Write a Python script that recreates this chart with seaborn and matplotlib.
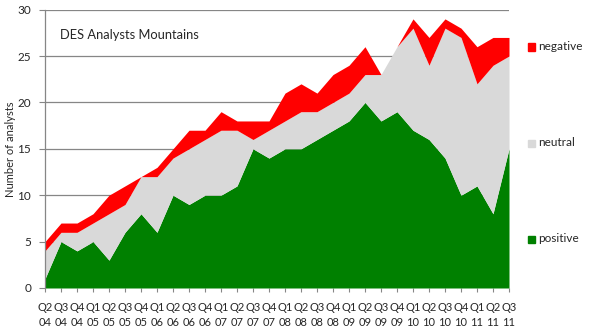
import matplotlib
matplotlib.use("Agg")
import matplotlib.pyplot as plt
import seaborn as sns

quarters = ["Q2\n04", "Q3\n04", "Q4\n04", "Q1\n05", "Q2\n05", "Q3\n05", "Q4\n05",
            "Q1\n06", "Q2\n06", "Q3\n06", "Q4\n06", "Q1\n07", "Q2\n07", "Q3\n07",
            "Q4\n07", "Q1\n08", "Q2\n08", "Q3\n08", "Q4\n08", "Q1\n09", "Q2\n09",
            "Q3\n09", "Q4\n09", "Q1\n10", "Q2\n10", "Q3\n10", "Q4\n10", "Q1\n11",
            "Q2\n11", "Q3\n11"]
positive = [1, 5, 4, 5, 3, 6, 8, 6, 10, 9, 10, 10, 11, 15, 14, 15, 15, 16, 17, 18,
            20, 18, 19, 17, 16, 14, 10, 11, 8, 15]
neutral = [3, 1, 2, 2, 5, 3, 4, 6, 4, 6, 6, 7, 6, 1, 3, 3, 4, 3, 3, 3,
           3, 5, 7, 11, 8, 14, 17, 11, 16, 10]
negative = [1, 1, 1, 1, 2, 2, 0, 1, 1, 2, 1, 2, 1, 2, 1, 3, 3, 2, 3, 3,
            3, 0, 0, 1, 3, 1, 1, 4, 3, 2]
series_names = ["positive", "neutral", "negative"]
series_colors = ["#008000", "#D9D9D9", "#FF0000"]
y_ticks = [0, 5, 10, 15, 20, 25, 30]

sns.set_style("white")
plt.rcParams["font.family"] = ["Lato", "DejaVu Sans"]

fig = plt.figure(figsize=(5.89, 3.27), dpi=100)
ax = fig.add_axes([45 / 589, 1 - 288 / 327, (509 - 45) / 589, (288 - 9.6) / 327])

x = list(range(len(quarters)))
ax.stackplot(x, positive, neutral, negative, colors=series_colors,
             labels=series_names, linewidth=0)

ax.set_xlim(0, len(quarters) - 1)
ax.set_ylim(0, 30)
ax.set_yticks(y_ticks)
ax.set_yticklabels([str(t) for t in y_ticks], fontsize=8.5)
ax.set_xticks(x)
ax.set_xticklabels(quarters, fontsize=8, linespacing=1.45)
ax.yaxis.grid(True, color="#868686", linewidth=0.9)
ax.set_axisbelow(True)
for side in ["top", "right", "bottom"]:
    ax.spines[side].set_visible(False)
ax.spines["left"].set_color("#868686")
ax.spines["left"].set_linewidth(0.9)
ax.tick_params(axis="y", left=True, length=4, color="#868686", pad=6)
ax.tick_params(axis="x", bottom=True, length=3, color="#868686", pad=7)
ax.set_ylabel("Number of analysts", fontsize=8, labelpad=1)

ax.text(0.033, 0.91, "DES Analysts Mountains", transform=ax.transAxes,
        fontsize=9.3, ha="left", va="center")

# legend entries placed beside the plot, one per band
legend_y = {"negative": 47, "neutral": 143, "positive": 239}
for name, color in zip(series_names, series_colors):
    yy = 1 - legend_y[name] / 327
    fig.patches.append(plt.Rectangle((528 / 589, yy - 3.5 / 327), 7 / 589, 7 / 327,
                                     transform=fig.transFigure, color=color,
                                     figure=fig))
    fig.text(538 / 589, yy, name, fontsize=8.5, va="center", ha="left")

fig.savefig("out.png", dpi=100)
